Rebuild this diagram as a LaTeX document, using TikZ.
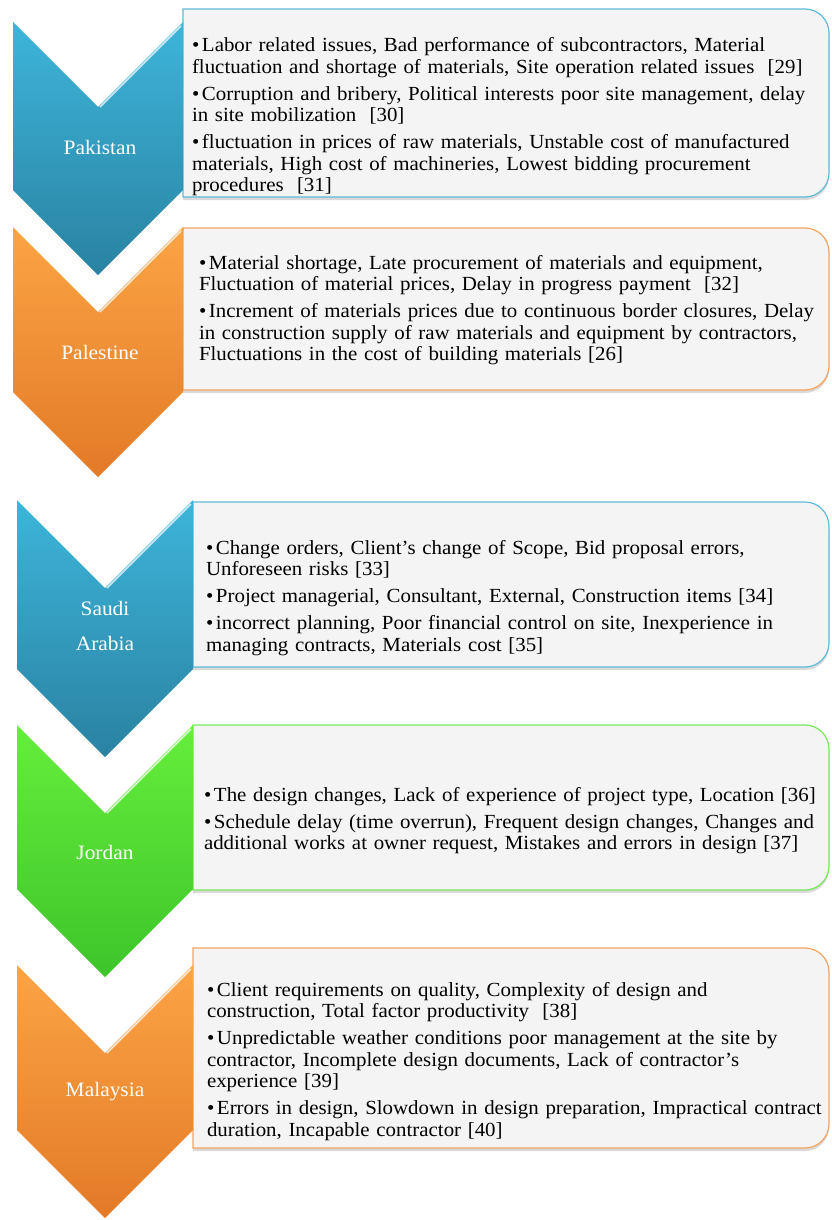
\documentclass[tikz,border=0pt]{standalone}
\usepackage{fontspec}
\setmainfont{Liberation Serif}[FakeStretch=1.045]
\usetikzlibrary{
  shadows
}
\definecolor{chevBlueTop}{HTML}{3DB5DA}
\definecolor{chevBlueBot}{HTML}{2A82A2}
\definecolor{chevOrangeTop}{HTML}{FCA445}
\definecolor{chevOrangeBot}{HTML}{E27A27}
\definecolor{chevGreenTop}{HTML}{66EE3C}
\definecolor{chevGreenBot}{HTML}{3DC42A}
\definecolor{boxFill}{HTML}{F4F4F4}
\definecolor{boxBlueLine}{HTML}{5EBBD9}
\definecolor{boxOrangeLine}{HTML}{F8A35C}
\definecolor{boxGreenLine}{HTML}{78E85A}
\newcommand{\bitem}[1]{\par\hangindent=10pt\hangafter=1\noindent\makebox[10pt][l]{•}#1\par}

\begin{document}
\begin{tikzpicture}[x=1pt, y=-1pt,
  every node/.style = {inner sep=0pt, outer sep=0pt},
  cname/.style = {text=white, align=center,
    font=\fontsize{20.5}{35}\selectfont},
  causes/.style = {anchor=north west, text width=640pt, align=left,
    font=\fontsize{20}{21.5}\selectfont\setlength{\parskip}{5.5pt}},
  chevBlue/.style = {top color=chevBlueTop, bottom color=chevBlueBot},
  chevOrange/.style = {top color=chevOrangeTop, bottom color=chevOrangeBot},
  chevGreen/.style = {top color=chevGreenTop, bottom color=chevGreenBot},
  bevel/.style = {draw=white, line width=1.6pt, opacity=.75},
  box/.style = {fill=boxFill, line width=1.2pt,
    drop shadow={shadow xshift=0pt, shadow yshift=-3pt, opacity=.3}},
  boxBlue/.style = {box, draw=boxBlueLine},
  boxOrange/.style = {box, draw=boxOrangeLine},
  boxGreen/.style = {box, draw=boxGreenLine}]
  \useasboundingbox (0,0) rectangle (831,1220);

  % boxes
  \path[boxBlue] (183,9) -- (805,9) arc[start angle=-90, end angle=0, radius=24]
    -- (829,173) arc[start angle=0, end angle=90, radius=24] -- (183,197) -- cycle;
  \path[boxOrange] (183,228) -- (805,228) arc[start angle=-90, end angle=0, radius=24]
    -- (829,366) arc[start angle=0, end angle=90, radius=24] -- (183,390) -- cycle;
  \path[boxBlue] (193,502) -- (805,502) arc[start angle=-90, end angle=0, radius=24]
    -- (829,643) arc[start angle=0, end angle=90, radius=24] -- (193,667) -- cycle;
  \path[boxGreen] (193,725) -- (805,725) arc[start angle=-90, end angle=0, radius=24]
    -- (829,866) arc[start angle=0, end angle=90, radius=24] -- (193,890) -- cycle;
  \path[boxOrange] (193,948) -- (805,948) arc[start angle=-90, end angle=0, radius=24]
    -- (829,1124) arc[start angle=0, end angle=90, radius=24] -- (193,1148) -- cycle;

  % chevrons
  \path[chevBlue] (13,22) -- (98,107) -- (183,22) -- (183,190) -- (98,275) -- (13,190) -- cycle;
  \draw[bevel] (100,107) -- (181,26);
  \path[chevOrange] (13,227) -- (98,312) -- (183,227) -- (183,392) -- (98,477) -- (13,392) -- cycle;
  \draw[bevel] (100,312) -- (181,231);
  \path[chevBlue] (17,500) -- (105,588) -- (193,500) -- (193,669) -- (105,757) -- (17,669) -- cycle;
  \draw[bevel] (107,588) -- (191,504);
  \path[chevGreen] (17,725) -- (105,813) -- (193,725) -- (193,889) -- (105,977) -- (17,889) -- cycle;
  \draw[bevel] (107,813) -- (191,729);
  \path[chevOrange] (17,965) -- (105,1053) -- (193,965) -- (193,1130) -- (105,1218) -- (17,1130) -- cycle;
  \draw[bevel] (107,1053) -- (191,969);

  % country names
  \node[cname] (pak) at (100,147) {Pakistan};
  \node[cname] (pal) at (100,352) {Palestine};
  \node[cname] (sau) at (105,626) {Saudi\\Arabia};
  \node[cname] (jor) at (105,852) {Jordan};
  \node[cname] (mal) at (105,1092) {Malaysia};

  % causes
  \node[causes] (pakText) at (192,25) {%
    \bitem{Labor related issues, Bad performance of subcontractors, Material\\
      fluctuation and shortage of materials, Site operation related issues\ \ [29]}
    \bitem{Corruption and bribery, Political interests poor site management, delay\\
      in site mobilization\ \ [30]}
    \bitem{fluctuation in prices of raw materials, Unstable cost of manufactured\\
      materials, High cost of machineries, Lowest bidding procurement\\
      procedures\ \ [31]}};
  \node[causes] (palText) at (199,242) {%
    \bitem{Material shortage, Late procurement of materials and equipment,\\
      Fluctuation of material prices, Delay in progress payment\ \ [32]}
    \bitem{Increment of materials prices due to continuous border closures, Delay\\
      in construction supply of raw materials and equipment by contractors,\\
      Fluctuations in the cost of building materials [26]}};
  \node[causes] (sauText) at (206,527) {%
    \bitem{Change orders, Client’s change of Scope, Bid proposal errors,\\
      Unforeseen risks [33]}
    \bitem{Project managerial, Consultant, External, Construction items [34]}
    \bitem{incorrect planning, Poor financial control on site, Inexperience in\\
      managing contracts, Materials cost [35]}};
  \node[causes] (jorText) at (204,774) {%
    \bitem{The design changes, Lack of experience of project type, Location [36]}
    \bitem{Schedule delay (time overrun), Frequent design changes, Changes and\\
      additional works at owner request, Mistakes and errors in design [37]}};
  \node[causes] (malText) at (207,969) {%
    \bitem{Client requirements on quality, Complexity of design and\\
      construction, Total factor productivity\ \ [38]}
    \bitem{Unpredictable weather conditions poor management at the site by\\
      contractor, Incomplete design documents, Lack of contractor’s\\
      experience [39]}
    \bitem{Errors in design, Slowdown in design preparation, Impractical contract\\
      duration, Incapable contractor [40]}};
\end{tikzpicture}
\end{document}
